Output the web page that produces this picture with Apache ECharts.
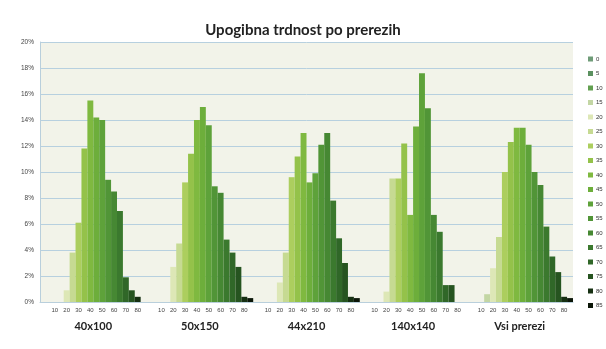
<!DOCTYPE html>
<html>
<head>
<meta charset="utf-8">
<script src="https://cdn.jsdelivr.net/npm/echarts@6/dist/echarts.min.js"></script>
<style>
  html, body { margin: 0; padding: 0; background: #ffffff; }
  #chart { width: 606px; height: 349px; }
</style>
</head>
<body>
<div id="chart"></div>
<script>
// Cross-sections (outer categories)
const sections = ['40x100', '50x150', '44x210', '140x140', 'Vsi prerezi'];

// Strength classes (one series each, shown in the legend)
const classes = ['0', '5', '10', '15', '20', '25', '30', '35', '40', '45',
                 '50', '55', '60', '65', '70', '75', '80', '85'];

// Inner tick labels under each cross-section
const tickLabels = ['', '', '10', '', '20', '', '30', '', '40', '',
                    '50', '', '60', '', '70', '', '80', ''];

// Share of pieces (%) per strength class, one array per cross-section
const share40x100  = [0, 0, 0, 0, 0.9, 3.8, 6.1, 11.8, 15.5, 14.2, 14.0, 9.4, 8.5, 7.0, 1.9, 0.9, 0.4, 0];
const share50x150  = [0, 0, 0, 0, 2.7, 4.5, 9.2, 11.4, 14.0, 15.0, 13.6, 8.9, 8.4, 4.8, 3.8, 2.7, 0.4, 0.3];
const share44x210  = [0, 0, 0, 0, 1.5, 3.8, 9.6, 11.2, 13.0, 9.2, 9.9, 12.1, 13.0, 7.8, 4.9, 3.0, 0.4, 0.3];
const share140x140 = [0, 0, 0, 0, 0.8, 9.5, 9.5, 12.2, 6.7, 13.5, 17.6, 14.9, 6.7, 5.4, 1.3, 1.3, 0, 0];
const shareAll     = [0, 0, 0, 0.6, 2.6, 5.0, 10.0, 12.3, 13.4, 13.4, 12.1, 10.0, 9.0, 5.8, 3.5, 2.3, 0.4, 0.3];

// Y axis range (%)
const yMin = 0, yMax = 20, yStep = 2;

const shares = [share40x100, share50x150, share44x210, share140x140, shareAll];

// Green ramp, light to dark, one colour per strength class
const palette = ['#6f9c78', '#5b9160', '#62a050', '#c3d6a4', '#dde7b6', '#c6da92',
                 '#acce5e', '#94c24a', '#7fb940', '#6dae3b', '#5ea23a', '#519537',
                 '#468833', '#3b792e', '#306728', '#265420', '#163012', '#0b1608'];

// Flattened category axis: every cross-section gets one slot per class
const slots = [];
sections.forEach(s => classes.forEach(c => slots.push(s + '|' + c)));

const series = classes.map((c, i) => ({
  name: c,
  type: 'bar',
  xAxisIndex: 0,
  barGap: '-100%',
  barCategoryGap: '0%',
  itemStyle: { color: palette[i] },
  emphasis: { disabled: true },
  data: slots.map((_, k) => {
    const g = Math.floor(k / classes.length);
    const j = k % classes.length;
    return j === i && shares[g][i] > 0 ? shares[g][i] : '-';
  })
}));

const chart = echarts.init(document.getElementById('chart'), null, { renderer: 'canvas' });
chart.setOption({
  animation: false,
  backgroundColor: '#ffffff',
  title: {
    text: 'Upogibna trdnost po prerezih',
    left: 'center',
    top: 18,
    textStyle: { fontFamily: 'Lato', fontWeight: 'bold', fontSize: 15, color: '#222222' }
  },
  legend: {
    orient: 'vertical',
    left: 583,
    top: 51,
    itemWidth: 5,
    itemHeight: 5,
    itemGap: 8.5,
    icon: 'rect',
    textStyle: { fontFamily: 'Liberation Sans', fontSize: 6, color: '#333333', padding: [0, 0, 0, -2] },
    data: classes
  },
  grid: {
    left: 40, right: 33, top: 42, bottom: 47,
    show: true, backgroundColor: '#f2f3e9', borderWidth: 0
  },
  xAxis: [
    {
      type: 'category',
      data: slots,
      position: 'bottom',
      axisLine: { lineStyle: { color: '#b9cfdc' } },
      axisTick: { show: false },
      axisLabel: {
        interval: 0,
        fontFamily: 'Liberation Sans',
        fontSize: 6,
        color: '#444444',
        margin: 5,
        formatter: (v, idx) => tickLabels[idx % classes.length]
      }
    },
    {
      type: 'category',
      data: sections,
      position: 'bottom',
      offset: 11,
      axisLine: { show: false },
      axisTick: { show: false },
      axisLabel: { fontFamily: 'Lato', fontWeight: 'bold', fontSize: 11, color: '#222222' }
    }
  ],
  yAxis: {
    type: 'value',
    min: yMin, max: yMax, interval: yStep,
    axisLine: { show: true, lineStyle: { color: '#b9cfdc' } },
    axisLabel: { fontFamily: 'Liberation Sans', fontSize: 6.5, color: '#444444', margin: 6, formatter: '{value}%' },
    splitLine: { lineStyle: { color: '#b7d0df', width: 1 } }
  },
  series: series
});
</script>
</body>
</html>
